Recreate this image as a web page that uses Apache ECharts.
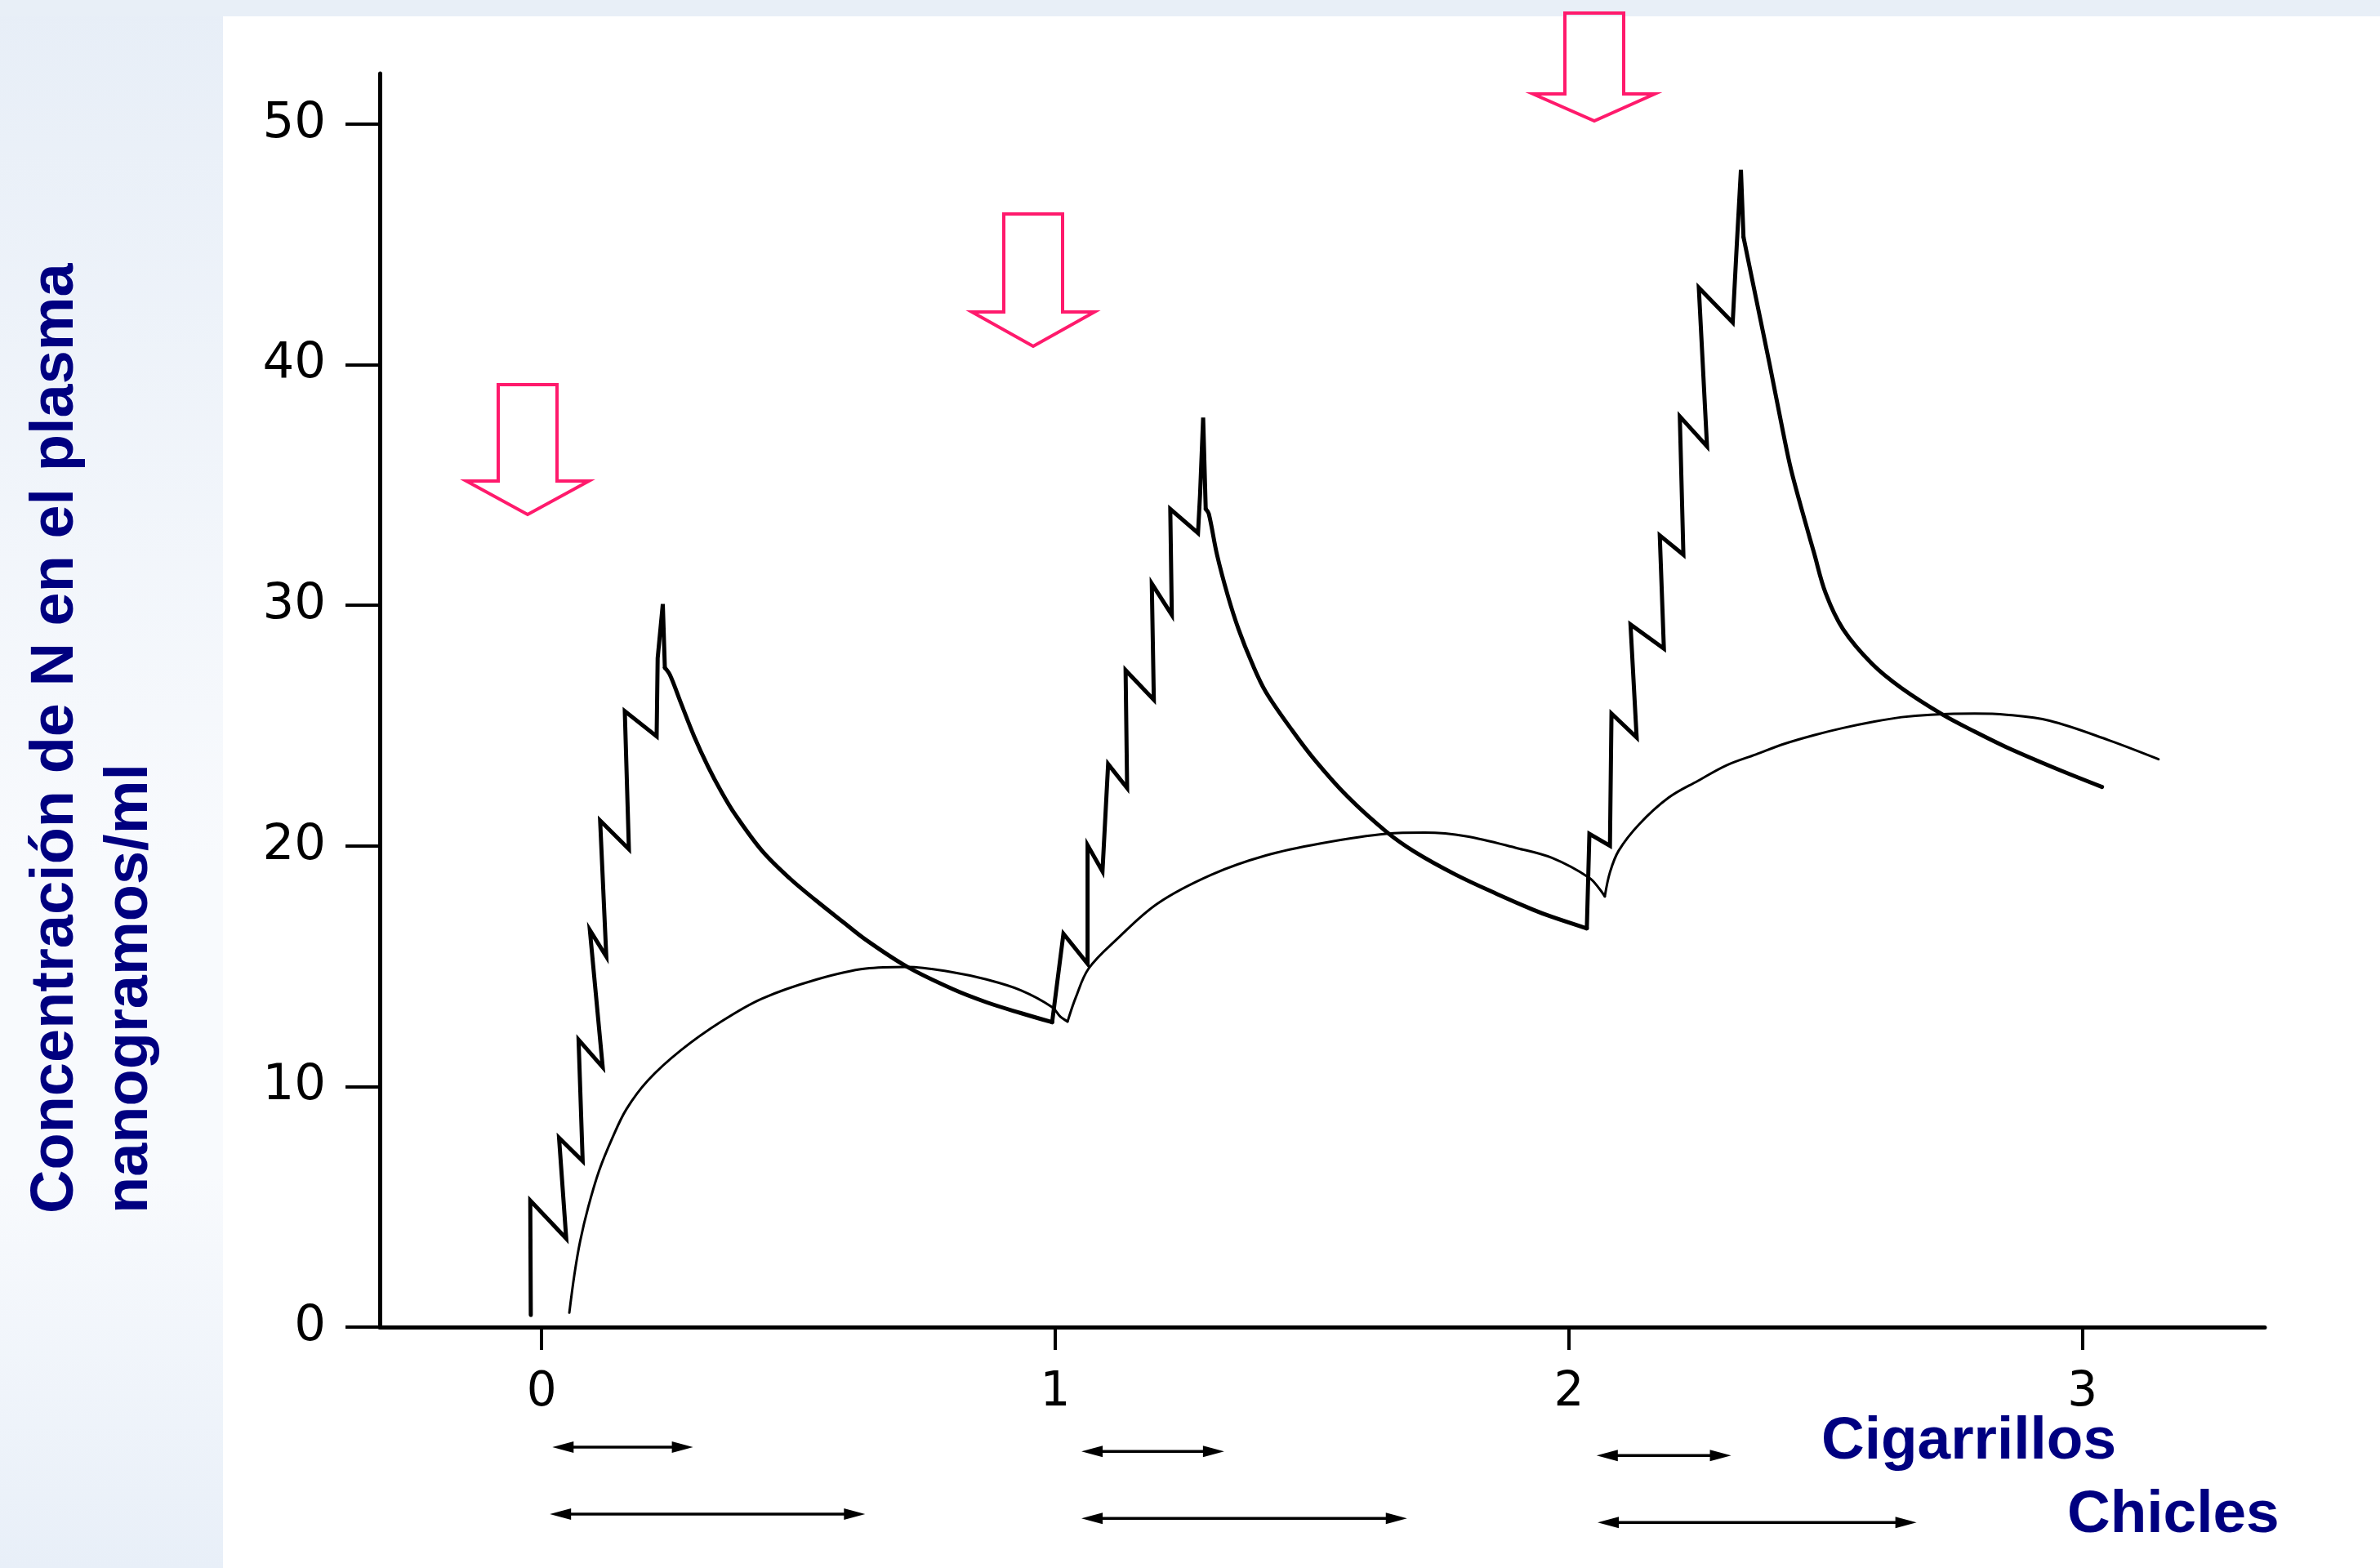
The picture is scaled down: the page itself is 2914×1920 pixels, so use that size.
<!DOCTYPE html>
<html>
<head>
<meta charset="utf-8">
<script src="https://cdn.jsdelivr.net/npm/echarts@6/dist/echarts.min.js"></script>
<style>
html,body{margin:0;padding:0;background:#ffffff;}
#chart{width:2914px;height:1920px;}
</style>
</head>
<body>
<div id="chart"></div>
<script>
// ---- data ----
const xTickValues = [0, 1, 2, 3];
const yTickValues = [0, 10, 20, 30, 40, 50];

// plasma nicotine, cigarettes (sawtooth) : [hours, ng/ml]
const cigarettes = [
  [-0.021, 0.5], [-0.022, 5.26], [0.048, 3.68], [0.034, 7.87], [0.080, 6.9],
  [0.072, 11.94], [0.119, 10.8], [0.094, 16.5], [0.126, 15.4], [0.114, 21.05],
  [0.170, 19.86], [0.162, 25.6], [0.224, 24.55], [0.226, 27.8], [0.236, 30.05],
  [0.240, 27.4], [0.250, 27.1], [0.271, 25.95], [0.297, 24.55], [0.324, 23.3],
  [0.350, 22.25], [0.377, 21.3], [0.429, 19.8], [0.483, 18.65], [0.536, 17.7],
  [0.589, 16.8], [0.631, 16.1], [0.712, 14.97], [0.800, 14.05], [0.866, 13.5],
  [0.933, 13.05], [0.994, 12.67],
  [1.016, 16.35], [1.063, 15.1], [1.063, 20.03], [1.092, 18.94], [1.103, 23.4],
  [1.140, 22.4], [1.137, 27.3], [1.192, 26.07], [1.188, 30.9], [1.227, 29.6],
  [1.224, 34.0], [1.278, 33.0], [1.282, 34.6], [1.288, 37.8], [1.293, 34.0],
  [1.299, 33.8], [1.315, 32.1], [1.336, 30.4], [1.357, 29.0], [1.383, 27.6],
  [1.410, 26.4], [1.463, 24.75], [1.506, 23.55], [1.569, 22.05], [1.644, 20.6],
  [1.700, 19.75], [1.780, 18.8], [1.860, 18.0], [1.930, 17.35], [1.967, 17.05],
  [2.035, 16.57],
  [2.040, 20.5], [2.080, 20.0], [2.083, 25.5], [2.132, 24.5], [2.120, 29.2],
  [2.185, 28.2], [2.177, 32.9], [2.223, 32.1], [2.216, 37.85], [2.269, 36.6],
  [2.253, 43.2], [2.319, 41.75], [2.327, 45.0], [2.335, 48.1], [2.340, 45.3],
  [2.364, 42.8], [2.391, 40.0], [2.417, 37.2], [2.433, 35.6], [2.461, 33.4],
  [2.477, 32.2], [2.500, 30.5], [2.534, 29.0], [2.591, 27.55], [2.648, 26.55],
  [2.728, 25.45], [2.790, 24.75], [2.852, 24.1], [2.950, 23.2], [3.038, 22.45]
];

// plasma nicotine, chewing gum (smooth) : [hours, ng/ml]
const gum = [
  [0.054, 0.6], [0.064, 2.2], [0.075, 3.56], [0.091, 5.0], [0.112, 6.5],
  [0.138, 7.87], [0.165, 9.05], [0.207, 10.25], [0.271, 11.5], [0.350, 12.7],
  [0.429, 13.65], [0.536, 14.45], [0.631, 14.9], [0.712, 14.97], [0.800, 14.75],
  [0.866, 14.45], [0.933, 14.0], [0.994, 13.3], [1.010, 12.9], [1.024, 12.7],
  [1.040, 13.7], [1.065, 14.9], [1.119, 16.1], [1.199, 17.6], [1.304, 18.8],
  [1.410, 19.6], [1.517, 20.1], [1.644, 20.5], [1.720, 20.55], [1.800, 20.4],
  [1.900, 19.9], [1.967, 19.5], [2.040, 18.67], [2.060, 18.2], [2.070, 17.9],
  [2.080, 18.9], [2.097, 19.8], [2.137, 20.9], [2.194, 22.0], [2.251, 22.7],
  [2.307, 23.35], [2.364, 23.8], [2.421, 24.25], [2.477, 24.6], [2.534, 24.9],
  [2.591, 25.15], [2.648, 25.35], [2.704, 25.45], [2.790, 25.5], [2.852, 25.45],
  [2.936, 25.2], [3.050, 24.4], [3.148, 23.6]
];

// exposure periods drawn as double arrows under the axis : [start, end] in hours
const cigarettePeriods = [[0.021, 0.295], [1.051, 1.329], [2.054, 2.316]];
const gumPeriods = [[0.016, 0.630], [1.051, 1.685], [2.056, 2.677]];

// ---- helpers: split a curve into straight (sawtooth) and smooth (decay) pieces ----
function cigarettePieces(pts) {
  const n = pts.length;
  const gentleFall = [];
  for (let i = 0; i < n - 1; i++) {
    const dx = pts[i + 1][0] - pts[i][0], dy = pts[i + 1][1] - pts[i][1];
    gentleFall.push(dx > 0 && dy < 0 && Math.abs(dy / dx) < 150);
  }
  const smoothSeg = new Array(n - 1).fill(false);
  let i = 0;
  while (i < n - 1) {
    if (!gentleFall[i]) { i++; continue; }
    let j = i;
    while (j < n - 1 && gentleFall[j]) j++;
    if (j - i >= 3) for (let k = i; k < j; k++) smoothSeg[k] = true;
    i = j;
  }
  const pieces = [];
  let cur = {smooth: smoothSeg[0], pts: [pts[0]]};
  for (let k = 0; k < n - 1; k++) {
    if (smoothSeg[k] !== cur.smooth) {
      pieces.push(cur);
      cur = {smooth: smoothSeg[k], pts: [pts[k]]};
    }
    cur.pts.push(pts[k + 1]);
  }
  pieces.push(cur);
  return pieces;
}

function gumPieces(pts) {
  const pieces = [];
  let cur = [pts[0]];
  for (let k = 1; k < pts.length; k++) {
    cur.push(pts[k]);
    if (k < pts.length - 1 && pts[k][1] < pts[k - 1][1] && pts[k][1] < pts[k + 1][1]) {
      pieces.push({smooth: true, pts: cur});
      cur = [pts[k]];
    }
  }
  pieces.push({smooth: true, pts: cur});
  return pieces;
}

// ---- chart ----
const chart = echarts.init(document.getElementById('chart'), null, {renderer: 'canvas'});

const labelFont = {color: '#000', fontFamily: 'DejaVu Sans', fontSize: 58, fontWeight: 'normal'};
const navy = '#000080';
const pink = '#ff1a6c';

function lineSeries(name, piece, width, z) {
  return {
    name: name, type: 'line', data: piece.pts, symbol: 'none', showSymbol: false,
    smooth: piece.smooth ? 0.35 : false,
    lineStyle: {color: '#000', width: width, join: 'miter', cap: 'round'}, z: z, silent: true
  };
}

function periodRenderer(rowOffset) {
  return function (params, api) {
    const a = api.coord([api.value(0), 0]);
    const b = api.coord([api.value(1), 0]);
    const y = a[1] + rowOffset + 5 * api.value(0);
    const head = 26, half = 7;
    return {
      type: 'group',
      children: [
        {type: 'line', shape: {x1: a[0] + 8, y1: y, x2: b[0] - 8, y2: y},
         style: {stroke: '#000', lineWidth: 3.5}},
        {type: 'polygon', shape: {points: [[a[0], y], [a[0] + head, y - half], [a[0] + head, y + half]]},
         style: {fill: '#000'}},
        {type: 'polygon', shape: {points: [[b[0], y], [b[0] - head, y - half], [b[0] - head, y + half]]},
         style: {fill: '#000'}}
      ]
    };
  };
}

function blockArrow(sl, sr, top, base, hl, hr, cx, tip) {
  return {
    type: 'polygon', z: 50, silent: true,
    shape: {points: [[sl, top], [sr, top], [sr, base], [hr, base], [cx, tip], [hl, base], [sl, base]]},
    style: {fill: 'rgba(0,0,0,0)', stroke: pink, lineWidth: 4}
  };
}

const series = [];
cigarettePieces(cigarettes).forEach(p => series.push(lineSeries('Cigarrillos', p, 5, 5)));
gumPieces(gum).forEach(p => series.push(lineSeries('Chicles', p, 3, 4)));
series.push({
  name: 'Periodo cigarrillos', type: 'custom', data: cigarettePeriods, clip: false,
  renderItem: periodRenderer(147), z: 5, silent: true
});
series.push({
  name: 'Periodo chicles', type: 'custom', data: gumPeriods, clip: false,
  renderItem: periodRenderer(229), z: 5, silent: true
});

const option = {
  animation: false,
  backgroundColor: '#ffffff',
  grid: {left: 465, top: 90, width: 2308, height: 1535, containLabel: false, outerBoundsMode: 'none'},
  xAxis: {
    type: 'value', min: -0.315, max: 3.355,
    axisLine: {show: true, onZero: false, lineStyle: {color: '#000', width: 5}},
    axisTick: {show: true, customValues: xTickValues, length: 28, lineStyle: {color: '#000', width: 4}},
    axisLabel: Object.assign({customValues: xTickValues, margin: 52}, labelFont),
    splitLine: {show: false}
  },
  yAxis: {
    type: 'value', min: 0, max: 52.1,
    axisLine: {show: true, onZero: false, lineStyle: {color: '#000', width: 5}},
    axisTick: {show: true, customValues: yTickValues, length: 42, lineStyle: {color: '#000', width: 4}},
    axisLabel: Object.assign({customValues: yTickValues, margin: 66}, labelFont, {fontSize: 61}),
    splitLine: {show: false}
  },
  series: series,
  graphic: [
    {type: 'rect', z: -10, silent: true, shape: {x: 0, y: 0, width: 273, height: 1920},
     style: {fill: new echarts.graphic.LinearGradient(0, 0, 0, 1, [
       {offset: 0, color: '#e7eef7'}, {offset: 0.55, color: '#f8fafd'},
       {offset: 0.75, color: '#f8fafd'}, {offset: 1, color: '#e8eff8'}])}},
    {type: 'rect', z: -10, silent: true, shape: {x: 0, y: 0, width: 2914, height: 20},
     style: {fill: '#e8eff7'}},
    {type: 'text', z: 60, x: 69, y: 1486, rotation: Math.PI / 2,
     style: {text: 'Concentración de N en el plasma', fill: navy,
             font: 'bold 74px "Liberation Sans", Arial, sans-serif', align: 'left', verticalAlign: 'middle'}},
    {type: 'text', z: 60, x: 160, y: 1486, rotation: Math.PI / 2,
     style: {text: 'nanogramos/ml', fill: navy,
             font: 'bold 74px "Liberation Sans", Arial, sans-serif', align: 'left', verticalAlign: 'middle'}},
    {type: 'text', z: 60, x: 2230, y: 1766,
     style: {text: 'Cigarrillos', fill: navy,
             font: 'bold 73px "Liberation Sans", Arial, sans-serif', align: 'left', verticalAlign: 'middle'}},
    {type: 'text', z: 60, x: 2531, y: 1856,
     style: {text: 'Chicles', fill: navy,
             font: 'bold 73px "Liberation Sans", Arial, sans-serif', align: 'left', verticalAlign: 'middle'}},
    blockArrow(610, 682, 471, 589, 571, 721, 646, 630),
    blockArrow(1229, 1301, 262, 382, 1190, 1340, 1265, 424),
    blockArrow(1916, 1988, 16, 115, 1877, 2026, 1952, 148)
  ]
};

chart.setOption(option);
</script>
</body>
</html>
